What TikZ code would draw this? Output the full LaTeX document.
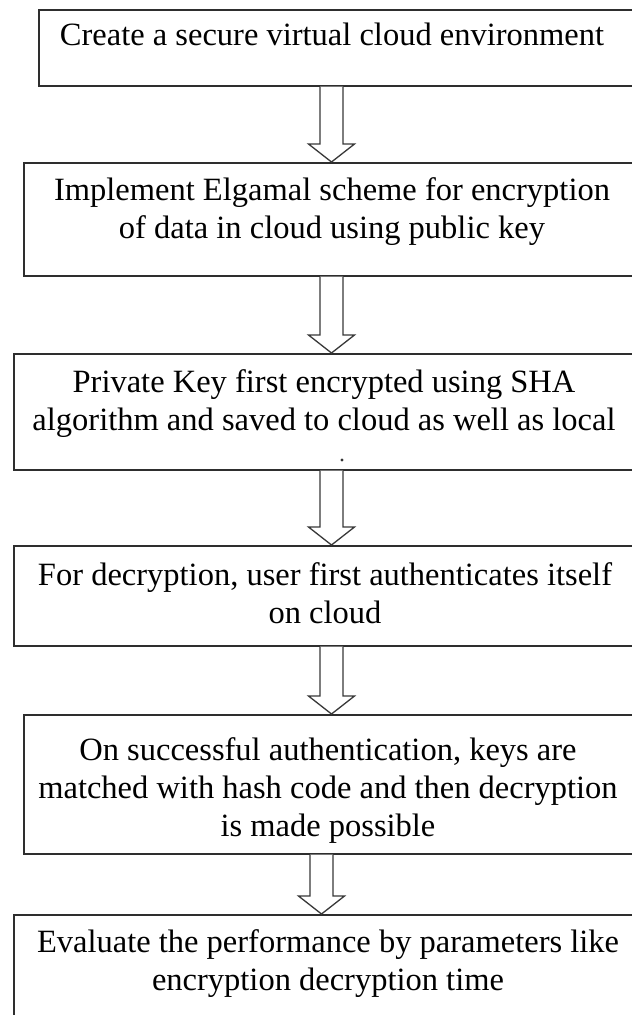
\documentclass[tikz,border=0pt]{standalone}
\usepackage{fontspec}
\setmainfont{Liberation Serif}
\usetikzlibrary{calc}

\tikzset{
  stepbox/.style={draw=black!82, line width=1.6pt, anchor=north west, inner sep=0pt},
  % anchored at the baseline of the last line
  steptext/.style={anchor=base, align=center, inner sep=0pt,
    font=\fontsize{32.5}{38}\selectfont},
  hollowarrow/.style={draw=black!78, line width=1.3pt, line join=miter, fill=white},
}

% Hollow block arrow from the bottom of box #1 to the top of box #2,
% its shaft centred on x = #3 (in pt)
\newcommand\blockarrow[3]{%
  \draw[hollowarrow] let \p1=(#1.south), \p2=(#2.north) in
    (#3pt-11.5pt,\y1) -- (#3pt-11.5pt,\y2+18pt) -- (#3pt-23pt,\y2+18pt)
    -- (#3pt,\y2) -- (#3pt+23pt,\y2+18pt) -- (#3pt+11.5pt,\y2+18pt)
    -- (#3pt+11.5pt,\y1);
}

\begin{document}
\begin{tikzpicture}[x=1pt, y=-1pt]
  \useasboundingbox (0,0) rectangle (632,1015);
  \clip (0,0) rectangle (632,1015);
  \fill[white] (0,0) rectangle (632,1015);

  % process boxes
  \node[stepbox, minimum width=607pt, minimum height=76pt]  (b1) at (38,9)   {};
  \node[stepbox, minimum width=622pt, minimum height=113pt] (b2) at (23,162) {};
  \node[stepbox, minimum width=632pt, minimum height=116pt] (b3) at (13,353) {};
  \node[stepbox, minimum width=632pt, minimum height=100pt] (b4) at (13,545) {};
  \node[stepbox, minimum width=622pt, minimum height=139pt] (b5) at (23,714) {};
  \node[stepbox, minimum width=632pt, minimum height=130pt] (b6) at (13,914) {};

  % arrows between the steps
  \blockarrow{b1}{b2}{331.5}
  \blockarrow{b2}{b3}{331.5}
  \blockarrow{b3}{b4}{331.5}
  \blockarrow{b4}{b5}{331.5}
  \blockarrow{b5}{b6}{321.5}

  % step texts
  \node[steptext] (t1) at (332,45)  {Create a secure virtual cloud environment};
  \node[steptext] (t2) at (332,238) {Implement Elgamal scheme for encryption\\ of data in cloud using public key};
  \node[steptext] (t3) at (324,430) {Private Key first encrypted using SHA\\ algorithm and saved to cloud as well as local};
  \fill[black!80] (342,460) circle (1.6pt);
  \node[steptext] (t4) at (325,623) {For decryption, user first authenticates itself\\ on cloud};
  \node[steptext] (t5) at (328,836) {On successful authentication, keys are\\ matched with hash code and then decryption\\ is made possible};
  \node[steptext] (t6) at (328,990) {Evaluate the performance by parameters like\\ encryption decryption time};
\end{tikzpicture}
\end{document}
